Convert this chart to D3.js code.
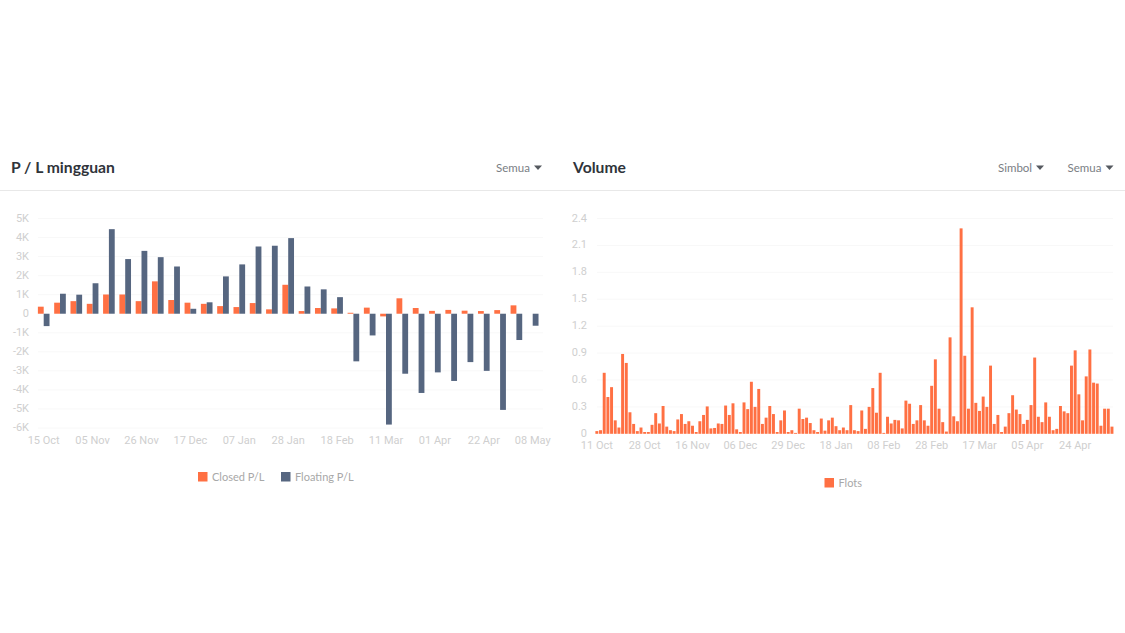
<!DOCTYPE html>
<html>
<head>
<meta charset="utf-8">
<script src="https://cdnjs.cloudflare.com/ajax/libs/d3/7.8.5/d3.min.js"></script>
<style>
  html, body { margin: 0; padding: 0; background: #fff; }
  svg { display: block; font-family: Lato, sans-serif; }
  .axis path, .axis line { display: none; }
  .axis text { fill: #cfcfcf; font-size: 11px; font-family: Roboto, sans-serif; }
</style>
</head>
<body>
<svg id="chart" width="1125" height="633"></svg>
<script>
// weekly P/L chart
var weeks = ["15 Oct","22 Oct","29 Oct","05 Nov","12 Nov","19 Nov","26 Nov","03 Dec","10 Dec","17 Dec","24 Dec",
  "31 Dec","07 Jan","14 Jan","21 Jan","28 Jan","04 Feb","11 Feb","18 Feb","25 Feb","04 Mar","11 Mar","18 Mar",
  "25 Mar","01 Apr","08 Apr","15 Apr","22 Apr","29 Apr","06 May","08 May"];
var closedPL = [370,580,660,520,1010,1010,660,1700,720,580,520,400,350,560,230,1520,140,300,280,50,320,-140,810,
  300,150,200,160,140,190,440,0];
var floatingPL = [-650,1050,1000,1600,4440,2870,3300,2970,2480,260,600,1960,2590,3530,3570,3970,1430,1280,870,
  -2500,-1140,-5820,-3150,-4160,-3080,-3530,-2540,-3000,-5050,-1380,-630];
var plTicks = [-6000,-5000,-4000,-3000,-2000,-1000,0,1000,2000,3000,4000,5000];
var weekLabels = ["15 Oct","05 Nov","26 Nov","17 Dec","07 Jan","28 Jan","18 Feb","11 Mar","01 Apr","22 Apr","08 May"];

// volume chart, one value per trading day
var flots = [
  .03,.04,.68,.41,.52,.15,.07,.89,.79,.24,
  .11,.03,.07,.02,.02,.10,.23,.115,.31,.08,
  .04,.03,.16,.22,.11,.14,.09,.02,.14,.21,
  .305,.06,.065,.115,.11,.315,.21,.34,.05,.02,
  .35,.275,.58,.30,.50,.11,.18,.31,.22,.02,
  .15,.26,.02,.04,.01,.28,.165,.18,.12,.04,
  .02,.17,.035,.15,.18,.085,.04,.07,.04,.32,
  .04,.03,.26,.055,.30,.51,.235,.68,.01,.19,
  .115,.155,.15,.06,.37,.335,.11,.15,.32,.15,
  .09,.535,.83,.28,.13,.025,1.075,.195,.14,2.29,
  .87,.28,1.41,.345,.255,.415,.30,.76,.11,.21,
  .02,.08,.23,.43,.27,.22,.11,.155,.32,.85,
  .19,.13,.35,.19,.04,.055,.31,.25,.23,.76,
  .93,.44,.15,.64,.94,.57,.56,.09,.28,.28,.08];
var volTicks = [0,.3,.6,.9,1.2,1.5,1.8,2.1,2.4];
var volLabels = ["11 Oct","28 Oct","16 Nov","06 Dec","29 Dec","18 Jan","08 Feb","28 Feb","17 Mar","05 Apr","24 Apr"];
var volLabelStep = 13;

var orange = "#ff7043", slate = "#566680";
var svg = d3.select("#chart");

function header(title, titleX, rule) {
  svg.append("text").attr("x", titleX).attr("y", 173)
    .attr("font-size", 15.7).attr("font-weight", 700).attr("fill", "#2f343a").text(title);
  svg.append("line").attr("x1", rule[0]).attr("x2", rule[1]).attr("y1", 190.5).attr("y2", 190.5)
    .attr("stroke", "#e8e8e8");
}

function dropdown(label, x) {
  svg.append("text").attr("x", x).attr("y", 172).attr("font-size", 11.5).attr("fill", "#7a7e84").text(label);
  svg.append("path").attr("fill", "#55595f")
    .attr("d", d3.line()([[x + 38, 165.5], [x + 46, 165.5], [x + 42, 170]]) + "Z");
}

function legendItem(label, x, y, color) {
  svg.append("rect").attr("x", x).attr("y", y).attr("width", 9.5).attr("height", 9.5).attr("fill", color);
  svg.append("text").attr("x", x + 14).attr("y", y + 9).attr("font-size", 11).attr("fill", "#a8a8a8").text(label);
}

// ---- left chart
var plY = d3.scaleLinear().domain([-6000, 5000]).range([428, 218.5]);
var plX = d3.scaleBand().domain(weeks).range([35.55, 540.85]);
var plInner = d3.scaleBand().domain(["closed", "floating"]).range([0, plX.bandwidth()]).paddingInner(0).paddingOuter(0.4);

header("P / L mingguan", 11, [0, 558]);
dropdown("Semua", 496);

svg.append("g").selectAll("line").data(plTicks.filter(function(d) { return d !== 0; })).enter().append("line")
  .attr("x1", 38).attr("x2", 543)
  .attr("y1", function(d) { return plY(d); }).attr("y2", function(d) { return plY(d); })
  .attr("stroke", "#f8f8f8");

svg.append("g").attr("class", "axis").attr("transform", "translate(29,-1)")
  .call(d3.axisLeft(plY).tickValues(plTicks).tickSize(0).tickPadding(0)
    .tickFormat(function(d) { return d === 0 ? "0" : (d / 1000) + "K"; }));

svg.append("g").selectAll("rect").data(closedPL).enter().append("rect")
  .attr("x", function(d, i) { return plX(weeks[i]) + plInner("closed"); })
  .attr("width", plInner.bandwidth())
  .attr("y", function(d) { return plY(Math.max(d, 0)); })
  .attr("height", function(d) { return Math.abs(plY(d) - plY(0)); })
  .attr("fill", orange);

svg.append("g").selectAll("rect").data(floatingPL).enter().append("rect")
  .attr("x", function(d, i) { return plX(weeks[i]) + plInner("floating"); })
  .attr("width", plInner.bandwidth())
  .attr("y", function(d) { return plY(Math.max(d, 0)); })
  .attr("height", function(d) { return Math.abs(plY(d) - plY(0)); })
  .attr("fill", slate);

svg.append("g").attr("class", "axis").attr("transform", "translate(0,436)")
  .call(d3.axisBottom(plX).tickValues(weekLabels).tickSize(0).tickPadding(0));

legendItem("Closed P/L", 198, 472, orange);
legendItem("Floating P/L", 281, 472, slate);

// ---- right chart
var volY = d3.scaleLinear().domain([0, 2.4]).range([433.8, 218.5]);
var volX = d3.scaleBand().domain(d3.range(flots.length)).range([595, 1113.8]).paddingInner(0.2).paddingOuter(0.1);

header("Volume", 573, [558, 1125]);
dropdown("Simbol", 998);
dropdown("Semua", 1067.5);

svg.append("g").selectAll("line").data(volTicks.slice(1)).enter().append("line")
  .attr("x1", 597).attr("x2", 1113)
  .attr("y1", function(d) { return volY(d); }).attr("y2", function(d) { return volY(d); })
  .attr("stroke", "#f8f8f8");

svg.append("g").attr("class", "axis").attr("transform", "translate(587,-1)")
  .call(d3.axisLeft(volY).tickValues(volTicks).tickSize(0).tickPadding(0)
    .tickFormat(function(d) { return d === 0 ? "0" : d.toFixed(1); }));

svg.append("g").selectAll("rect").data(flots).enter().append("rect")
  .attr("x", function(d, i) { return volX(i); })
  .attr("width", volX.bandwidth())
  .attr("y", function(d) { return volY(d); })
  .attr("height", function(d) { return volY(0) - volY(d); })
  .attr("fill", orange);

svg.append("g").attr("class", "axis").attr("transform", "translate(0,441)")
  .call(d3.axisBottom(volX)
    .tickValues(volLabels.map(function(d, i) { return i * volLabelStep; }))
    .tickSize(0).tickPadding(0)
    .tickFormat(function(d) { return volLabels[d / volLabelStep]; }));

legendItem("Flots", 824.5, 478, orange);
</script>
</body>
</html>
